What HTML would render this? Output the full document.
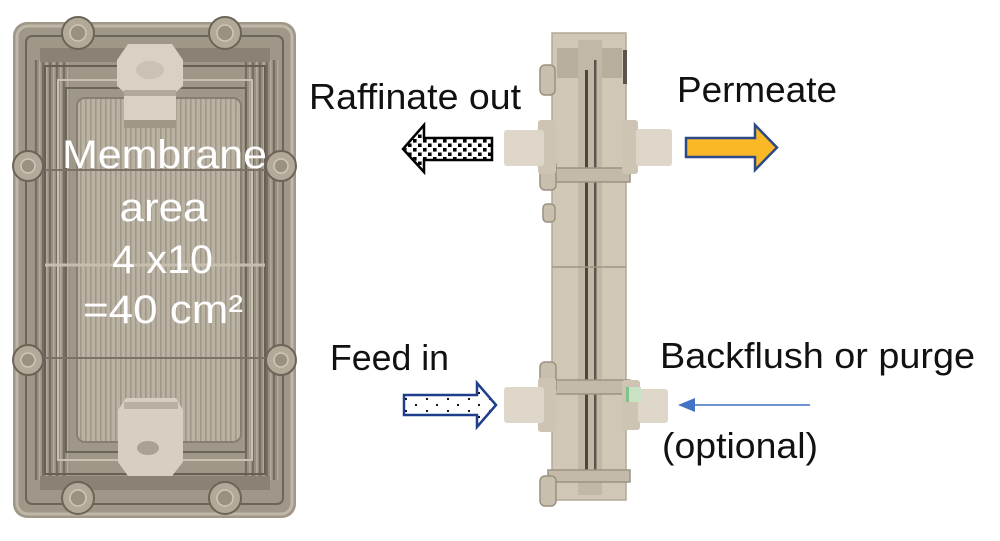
<!DOCTYPE html>
<html><head><meta charset="utf-8">
<style>
html,body{margin:0;padding:0;background:#fff;}
svg{display:block}
text{font-family:"Liberation Sans",Arial,sans-serif;}
</style></head>
<body>
<svg width="1000" height="541" viewBox="0 0 1000 541" xmlns="http://www.w3.org/2000/svg">
<defs>
  <pattern id="chk" width="10" height="9" patternUnits="userSpaceOnUse" x="2" y="138">
    <rect width="10" height="9" fill="#fff"/>
    <rect x="1" y="1" width="3.6" height="3.6" fill="#000"/>
    <rect x="6" y="5.5" width="3.6" height="3.6" fill="#000"/>
  </pattern>
  <pattern id="dots" width="21" height="12" patternUnits="userSpaceOnUse" x="400" y="395">
    <rect width="21" height="12" fill="#fff"/>
    <circle cx="6" cy="4" r="1.1" fill="#000"/>
    <circle cx="16" cy="10" r="1.1" fill="#000"/>
  </pattern>
  <pattern id="stripes" width="5" height="10" patternUnits="userSpaceOnUse">
    <rect width="5" height="10" fill="#bab2a3"/>
    <rect x="0" width="1.6" height="10" fill="#9f9788"/>
  </pattern>
  <pattern id="vstripe2" width="7" height="10" patternUnits="userSpaceOnUse">
    <rect width="7" height="10" fill="#978f80"/>
    <rect x="0" width="2" height="10" fill="#766e61"/>
    <rect x="4" width="1.5" height="10" fill="#b3ab9c"/>
  </pattern>
</defs>

<!-- ================= LEFT PHOTO ================= -->
<g>
  <rect x="13" y="22" width="283" height="496" rx="14" fill="#9f9788"/>
  <rect x="17" y="26" width="275" height="488" rx="11" fill="none" stroke="#bfb7a8" stroke-width="3"/>
  <rect x="26" y="36" width="257" height="468" rx="6" fill="none" stroke="#6c655a" stroke-width="2"/>
  <rect x="34" y="60" width="36" height="420" fill="url(#vstripe2)"/>
  <rect x="243" y="60" width="36" height="420" fill="url(#vstripe2)"/>
  <rect x="40" y="48" width="230" height="14" fill="#8a8274"/>
  <rect x="40" y="476" width="230" height="14" fill="#8a8274"/>
  <rect x="45" y="66" width="220" height="408" fill="none" stroke="#675f54" stroke-width="2"/>
  <rect x="58" y="80" width="194" height="380" fill="none" stroke="#c9c1b2" stroke-width="2"/>
  <rect x="66" y="88" width="180" height="364" fill="none" stroke="#6c655a" stroke-width="2"/>
  <rect x="77" y="98" width="164" height="344" rx="8" fill="url(#stripes)"/>
  <rect x="77" y="98" width="164" height="344" rx="8" fill="none" stroke="#878072" stroke-width="2"/>
  <line x1="45" y1="170" x2="265" y2="170" stroke="#7b7366" stroke-width="2"/>
  <line x1="45" y1="265" x2="265" y2="265" stroke="#c6beaf" stroke-width="3"/>
  <line x1="45" y1="358" x2="265" y2="358" stroke="#7b7366" stroke-width="2"/>
  <g fill="#b3a999" stroke="#6c6458" stroke-width="2">
    <circle cx="78" cy="33" r="16"/>
    <circle cx="225" cy="33" r="16"/>
    <circle cx="28" cy="166" r="15"/>
    <circle cx="28" cy="360" r="15"/>
    <circle cx="281" cy="166" r="15"/>
    <circle cx="281" cy="360" r="15"/>
    <circle cx="78" cy="498" r="16"/>
    <circle cx="225" cy="498" r="16"/>
  </g>
  <g fill="#9a9182" stroke="#cfc7b8" stroke-width="1.5">
    <circle cx="78" cy="33" r="8"/>
    <circle cx="225" cy="33" r="8"/>
    <circle cx="28" cy="166" r="7"/>
    <circle cx="28" cy="360" r="7"/>
    <circle cx="281" cy="166" r="7"/>
    <circle cx="281" cy="360" r="7"/>
    <circle cx="78" cy="498" r="8"/>
    <circle cx="225" cy="498" r="8"/>
  </g>
  <path d="M128 44 L172 44 L183 60 L183 86 L176 92 L176 128 L124 128 L124 92 L117 86 L117 60 Z" fill="#d8d1c4"/>
  <rect x="124" y="90" width="52" height="6" fill="#b1a999"/>
  <rect x="124" y="120" width="52" height="8" fill="#9f9788"/>
  <ellipse cx="150" cy="70" rx="14" ry="9" fill="#cac2b4"/>
  <path d="M126 398 L176 398 L183 410 L183 462 L172 476 L128 476 L118 462 L118 410 Z" fill="#d6cfc2"/>
  <rect x="124" y="402" width="54" height="7" fill="#b8b0a1"/>
  <ellipse cx="148" cy="448" rx="11" ry="7" fill="#aaa293"/>
  <g fill="#fff" font-size="40" text-anchor="middle">
    <text x="164.5" y="168" textLength="205" lengthAdjust="spacingAndGlyphs">Membrane</text>
    <text x="163.5" y="221" textLength="88" lengthAdjust="spacingAndGlyphs">area</text>
    <text x="162.5" y="273" textLength="101" lengthAdjust="spacingAndGlyphs">4 x10</text>
    <text x="163" y="323" textLength="160" lengthAdjust="spacingAndGlyphs">=40 cm²</text>
  </g>
</g>

<!-- ================= CENTER DEVICE ================= -->
<g>
  <rect x="552" y="33" width="74" height="467" fill="#d0c7b7"/>
  <rect x="552" y="33" width="74" height="467" fill="none" stroke="#b2a998" stroke-width="1.5"/>
  <rect x="557" y="48" width="28" height="30" fill="#b7ae9d"/>
  <rect x="596" y="48" width="26" height="30" fill="#b7ae9d"/>
  <rect x="623" y="50" width="4" height="34" fill="#5a544a"/>
  <rect x="578" y="40" width="24" height="455" fill="#c1b8a7"/>
  <rect x="585" y="70" width="3" height="400" fill="#4b463e"/>
  <rect x="594" y="60" width="2.5" height="420" fill="#5b554b"/>
  <line x1="552" y1="267" x2="626" y2="267" stroke="#9f9685" stroke-width="1.5"/>
  <rect x="548" y="168" width="82" height="14" fill="#c3baa9" stroke="#9c9381" stroke-width="1.5"/>
  <rect x="548" y="380" width="82" height="14" fill="#c3baa9" stroke="#9c9381" stroke-width="1.5"/>
  <rect x="548" y="470" width="82" height="12" fill="#c3baa9" stroke="#9c9381" stroke-width="1.5"/>
  <g fill="#c8bfae" stroke="#9a917f" stroke-width="1.5">
    <rect x="540" y="65" width="15" height="30" rx="5"/>
    <rect x="540" y="160" width="16" height="30" rx="5"/>
    <rect x="543" y="204" width="12" height="18" rx="4"/>
    <rect x="540" y="362" width="16" height="32" rx="5"/>
    <rect x="540" y="476" width="16" height="30" rx="5"/>
  </g>
  <rect x="538" y="120" width="18" height="54" rx="3" fill="#cdc4b3"/>
  <rect x="504" y="130" width="40" height="36" rx="3" fill="#ded6c9"/>
  <rect x="622" y="120" width="16" height="54" rx="3" fill="#cdc4b3"/>
  <rect x="636" y="129" width="36" height="37" rx="3" fill="#ded6c9"/>
  <rect x="538" y="378" width="18" height="54" rx="3" fill="#cdc4b3"/>
  <rect x="504" y="387" width="40" height="36" rx="3" fill="#ded6c9"/>
  <rect x="622" y="380" width="18" height="50" rx="3" fill="#cdc4b3"/>
  <rect x="638" y="389" width="30" height="34" rx="3" fill="#ded6c9"/>
  <rect x="626" y="387" width="15" height="15" fill="#c9e2c3"/>
  <rect x="626" y="387" width="3" height="15" fill="#7fc28a"/>
</g>

<!-- ================= ARROWS ================= -->
<polygon points="403,149 424,125 424,138 492,138 492,160 424,160 424,172" fill="url(#chk)" stroke="#000" stroke-width="2.5" stroke-linejoin="miter"/>
<polygon points="686,138 755,138 755,125 777,147.5 755,170 755,157 686,157" fill="#fbb826" stroke="#2c4a8a" stroke-width="2.5"/>
<polygon points="404,395 477,395 477,383 496,405 477,427 477,415 404,415" fill="url(#dots)" stroke="#1f3e8c" stroke-width="2.5"/>
<line x1="810" y1="405" x2="692" y2="405" stroke="#4472c4" stroke-width="1.6"/>
<polygon points="678,405 695,398 695,412" fill="#4472c4"/>

<!-- ================= LABELS ================= -->
<g fill="#111" font-size="36">
  <text x="309" y="109" textLength="212" lengthAdjust="spacingAndGlyphs">Raffinate out</text>
  <text x="677" y="102" textLength="160" lengthAdjust="spacingAndGlyphs">Permeate</text>
  <text x="330" y="370" textLength="119" lengthAdjust="spacingAndGlyphs">Feed in</text>
  <text x="660" y="368" textLength="315" lengthAdjust="spacingAndGlyphs">Backflush or purge</text>
  <text x="662" y="458" textLength="156" lengthAdjust="spacingAndGlyphs">(optional)</text>
</g>
</svg>
</body></html>
